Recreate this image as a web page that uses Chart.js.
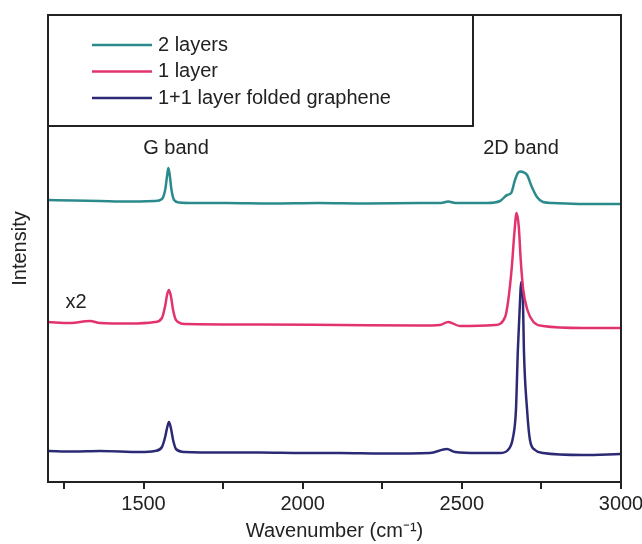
<!DOCTYPE html>
<html>
<head>
<meta charset="utf-8">
<script src="https://cdn.jsdelivr.net/npm/chart.js@4"></script>
<style>
  body { margin: 0; background: #fff; }
  #wrap { width: 642px; height: 544px; }
</style>
</head>
<body>
<div id="wrap"><canvas id="ramanChart" width="642" height="544"></canvas></div>
<script>
// Raman spectra (wavenumber in cm-1, intensity in arbitrary units, curves offset)
const seriesNames = ['2 layers', '1 layer', '1+1 layer folded graphene'];

const wnTwoLayers = [1200, 1280, 1363, 1450, 1536, 1558, 1568, 1574, 1578, 1582, 1588, 1596, 1612, 1660, 1760, 1900, 2050, 2200, 2369, 2435, 2457, 2480, 2579, 2620, 2642, 2655, 2667, 2676, 2684, 2692, 2705, 2720, 2736, 2755, 2786, 2880, 2997];
const intTwoLayers = [282, 281.5, 281, 280.5, 281, 283, 292, 306, 314, 308, 292, 282, 279.5, 279, 279, 278.5, 279, 278.5, 279, 279, 280.5, 279, 279, 281, 287, 289, 302, 309, 310.5, 310, 307, 295, 285, 280, 279, 278, 278];

const wnOneLayer = [1200, 1269, 1332, 1363, 1458, 1536, 1558, 1568, 1574, 1580, 1586, 1593, 1602, 1630, 1866, 2117, 2369, 2431, 2457, 2494, 2604, 2636, 2646, 2657, 2665, 2672, 2679, 2685, 2693, 2706, 2725, 2755, 2881, 2997];
const intOneLayer = [160, 159, 161, 159, 158.5, 160, 164, 176, 187, 192, 186, 172, 162, 158, 157.5, 157, 156.5, 157, 160, 156, 157, 165, 182, 215, 249, 269, 255, 222, 192, 172, 160, 156, 154, 154];

const wnFolded = [1200, 1280, 1363, 1489, 1536, 1558, 1568, 1574, 1580, 1586, 1593, 1602, 1630, 1750, 1866, 2000, 2117, 2250, 2400, 2453, 2479, 2550, 2620, 2645, 2661, 2670, 2676, 2683, 2686, 2692, 2695, 2705, 2714, 2730, 2755, 2881, 2997];
const intFolded = [31, 30.5, 31, 30, 31, 35, 45, 54, 60, 54, 42, 33, 30, 29.5, 29.5, 29, 29, 28.5, 29, 33, 30, 29, 29, 32, 45, 72, 132, 182, 200, 182, 132, 72, 42, 32, 29, 27, 28];

const majorTicks = [1500, 2000, 2500, 3000];
const minorTicks = [1250, 1750, 2250, 2750];

const seriesColors = ['#2b8a8c', '#e2336f', '#2d2a75'];

function toPoints(xs, ys) {
  return xs.map((x, i) => ({ x: x, y: ys[i] }));
}

Chart.defaults.font.family = '"Liberation Sans", Arial, sans-serif';
Chart.defaults.color = '#222';

const dataRaman = {
  datasets: [
    { label: seriesNames[0], data: toPoints(wnTwoLayers, intTwoLayers), borderColor: seriesColors[0] },
    { label: seriesNames[1], data: toPoints(wnOneLayer, intOneLayer), borderColor: seriesColors[1] },
    { label: seriesNames[2], data: toPoints(wnFolded, intFolded), borderColor: seriesColors[2] }
  ].map(ds => Object.assign(ds, {
    borderWidth: 2.5,
    pointRadius: 0,
    fill: false,
    cubicInterpolationMode: 'monotone'
  }))
};

// frame, legend box and band labels
const framePlugin = {
  id: 'frame',
  afterDatasetsDraw(chart) {
    const { ctx, chartArea: a, scales } = chart;
    ctx.save();
    ctx.strokeStyle = '#222';
    ctx.lineWidth = 2;
    ctx.strokeRect(a.left, a.top, a.right - a.left, a.bottom - a.top);
    ctx.strokeRect(a.left, a.top, 473 - a.left, 126 - a.top);

    ctx.font = '20px "Liberation Sans", Arial, sans-serif';
    ctx.textBaseline = 'middle';
    ctx.fillStyle = '#222';
    chart.data.datasets.forEach((ds, i) => {
      const y = 45 + i * 26.5;
      ctx.strokeStyle = ds.borderColor;
      ctx.lineWidth = 2.5;
      ctx.beginPath();
      ctx.moveTo(92, y);
      ctx.lineTo(152, y);
      ctx.stroke();
      ctx.textAlign = 'left';
      ctx.fillText(ds.label, 158, y);
    });

    const notes = [
      { text: 'G band', x: 1602, y: 334 },
      { text: '2D band', x: 2686, y: 334 },
      { text: 'x2', x: 1288, y: 180 }
    ];
    ctx.textAlign = 'center';
    notes.forEach(n => {
      ctx.fillText(n.text, scales.x.getPixelForValue(n.x), scales.y.getPixelForValue(n.y));
    });
    ctx.restore();
  }
};

const configRaman = {
  type: 'line',
  data: dataRaman,
  options: {
    responsive: false,
    animation: false,
    layout: { padding: { top: 15, right: 21, left: 0, bottom: 0 } },
    plugins: {
      legend: { display: false },
      tooltip: { enabled: false }
    },
    scales: {
      x: {
        type: 'linear',
        min: 1200,
        max: 3000,
        afterBuildTicks: scale => {
          scale.ticks = minorTicks.concat(majorTicks).sort((p, q) => p - q).map(v => ({ value: v }));
        },
        afterFit: scale => {
          scale.height = 62;
          scale.paddingLeft = 0;
          scale.paddingRight = 0;
        },
        ticks: {
          font: { size: 20 },
          padding: 3,
          maxRotation: 0,
          autoSkip: false,
          callback: v => majorTicks.includes(v) ? String(v) : ''
        },
        grid: { drawOnChartArea: false, tickLength: 7, color: '#222', lineWidth: 2 },
        border: { color: '#222', width: 2 },
        title: {
          display: true,
          text: 'Wavenumber (cm⁻¹)',
          font: { size: 20, lineHeight: 1.1 },
          padding: { top: 0, bottom: 2 }
        }
      },
      y: {
        min: 0,
        max: 467,
        afterFit: scale => { scale.width = 48; },
        ticks: { display: false },
        grid: { display: false },
        border: { color: '#222', width: 2 },
        title: {
          display: true,
          text: 'Intensity',
          font: { size: 20, lineHeight: 1.2 },
          padding: { top: 8, bottom: 0 }
        }
      }
    }
  },
  plugins: [framePlugin]
};

var ramanChart = new Chart(
  document.getElementById('ramanChart'),
  configRaman
);
</script>
</body>
</html>
